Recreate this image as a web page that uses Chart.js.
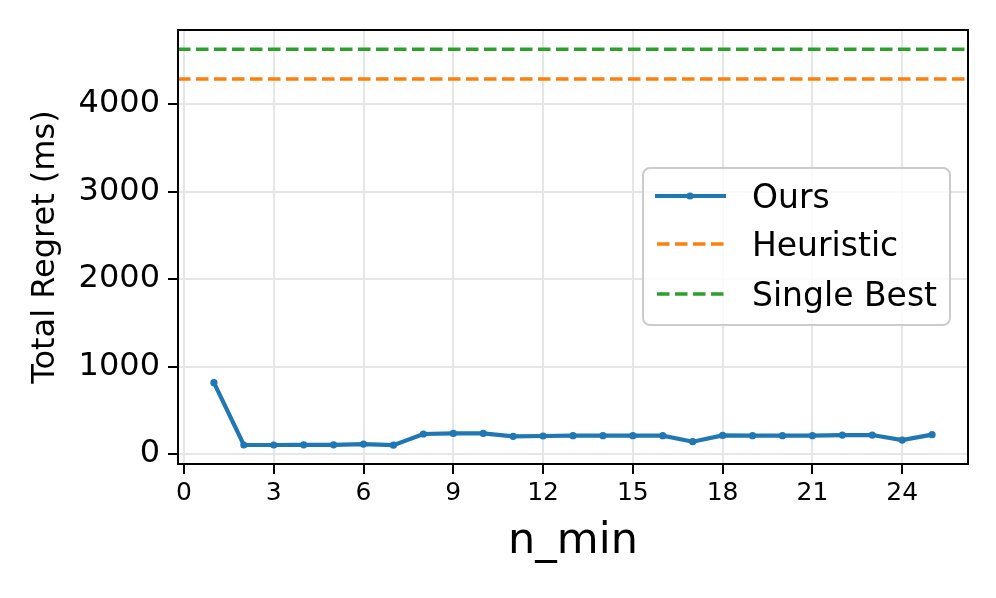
<!DOCTYPE html>
<html>
<head>
<meta charset="utf-8">
<script src="https://cdn.jsdelivr.net/npm/chart.js@4.4.0/dist/chart.umd.min.js"></script>
<style>
  html, body { margin: 0; padding: 0; background: #ffffff; }
  #wrap { width: 996px; height: 598px; position: relative; }
</style>
</head>
<body>
<div id="wrap"><canvas id="c" width="996" height="598"></canvas></div>
<script>
// ---- data ----
const nMin = [1, 2, 3, 4, 5, 6, 7, 8, 9, 10, 11, 12, 13, 14, 15, 16, 17, 18, 19, 20, 21, 22, 23, 24, 25];
const oursRegret = [815, 103, 103, 105, 105, 114, 101, 229, 236, 236, 202, 206, 210, 210, 210, 210, 141, 213, 210, 210, 210, 217, 217, 160, 221];
const heuristicRegret = 4286;
const singleBestRegret = 4625;
const xTicks = [0, 3, 6, 9, 12, 15, 18, 21, 24];
const yTicks = [0, 1000, 2000, 3000, 4000];
const seriesNames = ['Ours', 'Heuristic', 'Single Best'];

// ---- axis limits ----
const X_MIN = -0.2, X_MAX = 26.2;
const Y_MIN = -114, Y_MAX = 4846;

const BLUE = '#1f77b4', ORANGE = '#ff7f0e', GREEN = '#2ca02c';
const FONT = "'DejaVu Sans', sans-serif";

const framePlugin = {
  id: 'frame',
  afterDraw(chart) {
    const { ctx, chartArea: a } = chart;
    ctx.save();
    ctx.strokeStyle = '#000';
    ctx.lineWidth = 2;
    ctx.strokeRect(a.left, a.top, a.right - a.left, a.bottom - a.top);
    ctx.restore();

    // legend
    const bx = 643, by = 168, bw = 307, bh = 157;
    ctx.save();
    ctx.beginPath();
    ctx.roundRect(bx, by, bw, bh, 7);
    ctx.fillStyle = 'rgba(255,255,255,0.8)';
    ctx.fill();
    ctx.strokeStyle = '#cccccc';
    ctx.lineWidth = 2;
    ctx.stroke();
    const rows = [196, 244, 294];
    const colors = [BLUE, ORANGE, GREEN];
    rows.forEach((y, i) => {
      ctx.beginPath();
      ctx.strokeStyle = colors[i];
      if (i === 0) { ctx.lineWidth = 4.2; ctx.setLineDash([]); }
      else { ctx.lineWidth = 3.5; ctx.setLineDash([12.5, 5.5]); }
      ctx.moveTo(i === 0 ? 655 : 657, y);
      ctx.lineTo(726, y);
      ctx.stroke();
      ctx.setLineDash([]);
      if (i === 0) {
        ctx.beginPath();
        ctx.fillStyle = BLUE;
        ctx.arc(690, y, 3.6, 0, Math.PI * 2);
        ctx.fill();
      }
      ctx.fillStyle = '#000';
      ctx.font = '33px ' + FONT;
      ctx.textBaseline = 'middle';
      ctx.textAlign = 'left';
      ctx.fillText(seriesNames[i], 752, y + 3);
    });
    ctx.restore();
  }
};

new Chart(document.getElementById('c'), {
  type: 'line',
  data: {
    datasets: [
      {
        label: seriesNames[0],
        data: nMin.map((x, i) => ({ x: x, y: oursRegret[i] })),
        borderColor: BLUE,
        backgroundColor: BLUE,
        borderWidth: 4.2,
        pointRadius: 3.6,
        pointBorderWidth: 0,
        pointHoverRadius: 3.6,
        tension: 0
      },
      {
        label: seriesNames[1],
        data: [{ x: X_MIN, y: heuristicRegret }, { x: X_MAX, y: heuristicRegret }],
        borderColor: ORANGE,
        borderWidth: 3.5,
        borderDash: [12.5, 5.5],
        pointRadius: 0,
        tension: 0
      },
      {
        label: seriesNames[2],
        data: [{ x: X_MIN, y: singleBestRegret }, { x: X_MAX, y: singleBestRegret }],
        borderColor: GREEN,
        borderWidth: 3.5,
        borderDash: [12.5, 5.5],
        pointRadius: 0,
        tension: 0
      }
    ]
  },
  options: {
    responsive: false,
    animation: false,
    events: [],
    layout: { padding: { top: 30, right: 28, left: 0, bottom: 0 } },
    plugins: { legend: { display: false }, tooltip: { enabled: false }, title: { display: false } },
    scales: {
      x: {
        type: 'linear',
        min: X_MIN,
        max: X_MAX,
        afterBuildTicks: s => { s.ticks = xTicks.map(v => ({ value: v })); },
        afterFit: s => { s.height = 134; },
        ticks: { color: '#000', font: { family: FONT, size: 25 }, padding: 4, maxRotation: 0, autoSkip: false, callback: v => String(v) },
        grid: { color: '#e6e6e6', lineWidth: 2, drawTicks: true, tickLength: 10, tickColor: '#000', tickWidth: 2 },
        border: { display: true, color: '#000', width: 2 },
        title: { display: true, text: 'n_min', color: '#000', font: { family: FONT, size: 43 }, padding: { top: 0, bottom: 30 } }
      },
      y: {
        type: 'linear',
        min: Y_MIN,
        max: Y_MAX,
        afterBuildTicks: s => { s.ticks = yTicks.map(v => ({ value: v })); },
        afterFit: s => { s.width = 178; },
        ticks: { color: '#000', font: { family: FONT, size: 32 }, padding: 8, callback: v => String(v) },
        grid: { color: '#e6e6e6', lineWidth: 2, drawTicks: true, tickLength: 10, tickColor: '#000', tickWidth: 2 },
        border: { display: true, color: '#000', width: 2 },
        title: { display: true, text: 'Total Regret (ms)', color: '#000', font: { family: FONT, size: 32 }, padding: { top: 26, bottom: 0 } }
      }
    }
  },
  plugins: [framePlugin]
});
</script>
</body>
</html>
